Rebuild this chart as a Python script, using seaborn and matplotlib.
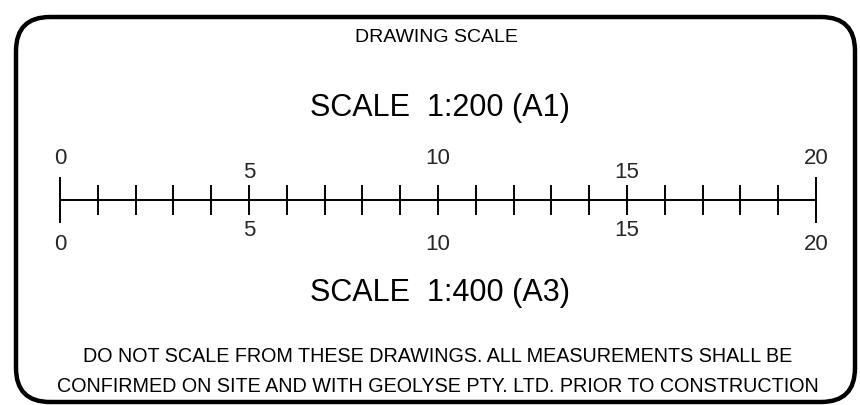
import matplotlib
matplotlib.use("Agg")
import matplotlib.pyplot as plt
from matplotlib.patches import FancyBboxPatch
from matplotlib import font_manager
import seaborn as sns
import numpy as np

# scale bar data
bar_start = 0
bar_end = 20
minor_step = 1
top_labels = [0, 5, 10, 15, 20]
bottom_labels = [0, 5, 10, 15, 20]

title_text = "DRAWING SCALE"
upper_scale = "SCALE  1:200 (A1)"
lower_scale = "SCALE  1:400 (A3)"
note_lines = ["DO NOT SCALE FROM THESE DRAWINGS. ALL MEASUREMENTS SHALL BE",
              "CONFIRMED ON SITE AND WITH GEOLYSE PTY. LTD. PRIOR TO CONSTRUCTION"]

sns.set_theme(style="white")
names = {f.name for f in font_manager.fontManager.ttflist}
fam = ["Liberation Sans Narrow"] if "Liberation Sans Narrow" in names else ["Liberation Sans"]
plt.rcParams['font.family'] = fam + ["DejaVu Sans"]

W, H = 860, 405
fig = plt.figure(figsize=(W / 100, H / 100), dpi=100)
fig.patch.set_facecolor("white")

# background axes in pixel coords
bg = fig.add_axes([0, 0, 1, 1])
bg.set_xlim(0, W)
bg.set_ylim(H, 0)
bg.axis("off")

box = FancyBboxPatch((16, 17), 839, 385, boxstyle="round,pad=0,rounding_size=34",
                     fill=False, ec="black", lw=3.2)
bg.add_patch(box)

bg.text(436, 37, title_text, ha="center", va="center", fontsize=14, color="black")
bg.text(440, 108, upper_scale, ha="center", va="center", fontsize=22, color="black")
bg.text(440, 293, lower_scale, ha="center", va="center", fontsize=22, color="black")
bg.text(438, 357, note_lines[0], ha="center", va="center", fontsize=14.2, color="black")
bg.text(438, 387, note_lines[1], ha="center", va="center", fontsize=14.2, color="black")

# scale bar axes: x 0..20 maps to pixel 60..816, y 0 at pixel 200
x0, x1 = 60, 816
ypix_lo, ypix_hi = 150, 250
ax = fig.add_axes([x0 / W, (H - ypix_hi) / H, (x1 - x0) / W, (ypix_hi - ypix_lo) / H])
ax.set_xlim(bar_start, bar_end)
ax.set_ylim(-50, 50)
ax.axis("off")

sns.lineplot(x=[bar_start, bar_end], y=[0, 0], ax=ax, color="black", lw=1.4)
ticks = np.arange(bar_start, bar_end + minor_step, minor_step)
for t in ticks:
    h = 23 if t in (bar_start, bar_end) else 15
    ax.plot([t, t], [-h, h], color="black", lw=1.4, clip_on=False, solid_capstyle="butt")

for v in top_labels:
    yy = 28 if v % 10 == 5 else 42
    ax.text(v, yy, str(v), ha="center", va="center", fontsize=16, clip_on=False)
for v in bottom_labels:
    yy = -30 if v % 10 == 5 else -45
    ax.text(v, yy, str(v), ha="center", va="center", fontsize=16, clip_on=False)

fig.savefig("out.png", dpi=100)
